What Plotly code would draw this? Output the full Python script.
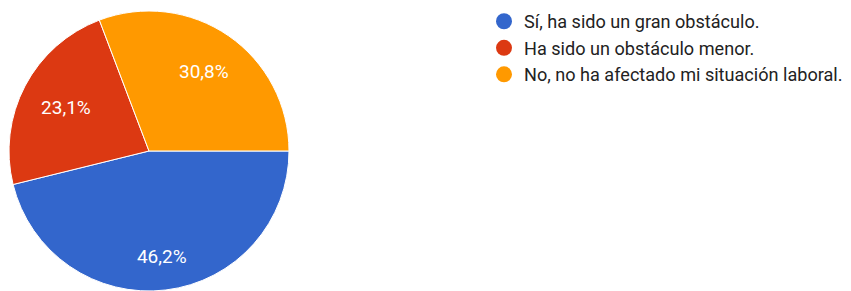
import plotly.graph_objects as go

labels = ["Sí, ha sido un gran obstáculo.", "Ha sido un obstáculo menor.", "No, no ha afectado mi situación laboral."]
values = [46.2, 23.1, 30.8]
colors = ["#3366cc", "#dc3912", "#ff9900"]

W, H = 851, 291
FONT = "Roboto, Arial, sans-serif"
# page body has an 8px margin; domain compensates for it
dom = dict(x=[1 / W, 281 / W], y=[8 / H, 288 / H])
pct_text = [f"{v:.1f}%".replace(".", ",") for v in values]
label_holes = [0.52, 0.34, 0.38]  # radial placement of each percentage label

fig = go.Figure()
fig.add_trace(go.Pie(
    labels=labels, values=values, sort=False, direction="clockwise", rotation=90,
    marker=dict(colors=colors, line=dict(color="white", width=1)),
    textinfo="none", domain=dom, showlegend=False, hoverinfo="label+percent",
))
for i, hole in enumerate(label_holes):
    fig.add_trace(go.Pie(
        labels=labels, values=values, sort=False, direction="clockwise", rotation=90,
        hole=hole,
        marker=dict(colors=["rgba(0,0,0,0)"] * 3, line=dict(width=0)),
        textinfo="text", text=[t if j == i else "" for j, t in enumerate(pct_text)],
        textposition="inside", insidetextorientation="horizontal",
        textfont=dict(family=FONT, size=19, color="white"),
        domain=dom, showlegend=False, hoverinfo="skip",
    ))
for i, (lab, col) in enumerate(zip(labels, colors)):
    fig.add_trace(go.Scatter(
        x=[None], y=[None], mode="markers", name=lab,
        marker=dict(color=col, size=18, symbol="circle"),
        legendgroup=f"g{i}", showlegend=True,
    ))
fig.update_layout(
    width=W, height=H, margin=dict(l=0, r=0, t=0, b=0, autoexpand=False),
    paper_bgcolor="white", plot_bgcolor="white",
    xaxis=dict(visible=False), yaxis=dict(visible=False),
    legend=dict(x=476 / W, y=1 + 5 / H, xanchor="left", yanchor="top",
                font=dict(family=FONT, size=18.1, color="#222222"),
                tracegroupgap=0, itemsizing="trace", bgcolor="rgba(0,0,0,0)"),
)
fig.write_html("out.html")
